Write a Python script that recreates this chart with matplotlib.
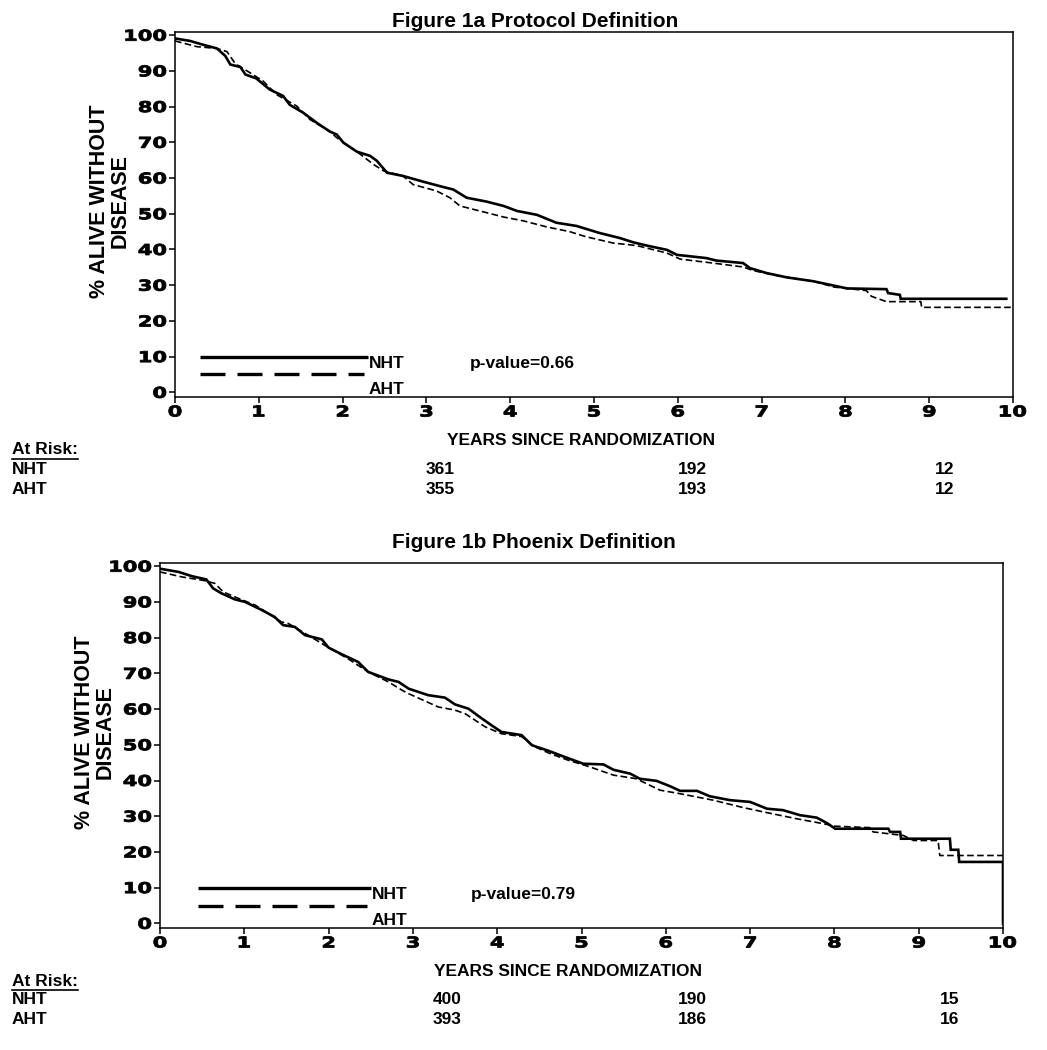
import numpy as np
import matplotlib
matplotlib.use('Agg')
import matplotlib.pyplot as plt
from matplotlib.textpath import TextPath
from matplotlib.patches import PathPatch
from matplotlib.transforms import Affine2D
from matplotlib.font_manager import FontProperties

# years since randomization and % alive without disease
t_1a_nht = [0, 0.18, 0.34, 0.50, 0.60, 0.66, 0.78, 0.84, 0.97, 1.13, 1.29, 1.37, 1.53, 1.69,
            1.85, 1.93, 2.01, 2.17, 2.33, 2.41, 2.53, 2.72, 2.96, 3.20, 3.32, 3.48, 3.72,
            3.92, 4.08, 4.32, 4.55, 4.79, 5.07, 5.31, 5.47, 5.63, 5.87, 5.99, 6.34, 6.46,
            6.78, 6.86, 7.06, 7.30, 7.62, 7.86, 8.02, 8.49, 8.51, 8.65, 8.66, 9.92]
s_1a_nht = [99.1, 98.4, 97.3, 96.3, 94.2, 91.8, 91.1, 89.0, 87.9, 84.8, 83.0, 80.5, 78.3, 75.5,
            73.0, 72.2, 69.9, 67.4, 66.2, 64.8, 61.5, 60.6, 59.0, 57.5, 56.8, 54.5, 53.4,
            52.2, 50.8, 49.7, 47.5, 46.6, 44.6, 43.2, 42.0, 41.1, 39.9, 38.5, 37.6, 36.9,
            36.2, 34.8, 33.4, 32.2, 31.1, 29.9, 29.1, 28.9, 27.8, 27.3, 26.2, 26.2]
t_1a_aht = [0, 0.26, 0.50, 0.62, 0.72, 0.86, 1.05, 1.21, 1.45, 1.61, 1.85, 1.93, 2.17, 2.37,
            2.49, 2.72, 2.84, 3.12, 3.28, 3.40, 3.72, 3.92, 4.16, 4.44, 4.71, 4.90, 5.23,
            5.51, 5.87, 6.03, 6.42, 6.78, 6.90, 7.22, 7.62, 7.86, 8.25, 8.31, 8.49, 8.90,
            8.91, 10.0]
s_1a_aht = [98.4, 96.8, 96.3, 95.4, 92.0, 90.0, 87.2, 83.4, 80.2, 76.4, 73.0, 71.3, 67.4, 63.8,
            62.0, 60.6, 58.2, 56.4, 54.5, 52.2, 50.3, 49.1, 48.0, 46.3, 45.0, 43.6, 41.8,
            41.1, 39.0, 37.3, 36.2, 35.1, 34.1, 32.5, 31.1, 29.5, 28.5, 26.9, 25.4, 25.4,
            23.8, 23.8]

t_1b_nht = [0, 0.22, 0.38, 0.55, 0.63, 0.73, 0.89, 1.01, 1.21, 1.36, 1.46, 1.60, 1.72, 1.92,
            2.00, 2.16, 2.35, 2.47, 2.71, 2.83, 2.95, 3.18, 3.38, 3.50, 3.66, 3.78, 3.93,
            4.05, 4.29, 4.41, 4.61, 4.80, 5.02, 5.26, 5.38, 5.58, 5.69, 5.89, 6.05, 6.17,
            6.37, 6.52, 6.76, 7.00, 7.20, 7.39, 7.59, 7.79, 7.91, 8.01, 8.64, 8.66, 8.78,
            8.79, 9.37, 9.38, 9.47, 9.48, 10.0, 10.0]
s_1b_nht = [99.3, 98.4, 97.2, 96.3, 93.8, 92.4, 90.7, 90.0, 87.7, 85.8, 83.5, 83.0, 80.7, 79.5,
            77.2, 75.3, 73.2, 70.4, 68.3, 67.6, 65.7, 63.9, 63.2, 61.3, 60.1, 58.0, 55.5,
            53.6, 52.7, 49.9, 48.3, 46.6, 44.7, 44.5, 43.0, 41.9, 40.5, 39.9, 38.4, 37.1,
            37.1, 35.6, 34.5, 34.0, 32.1, 31.7, 30.3, 29.6, 28.1, 26.5, 26.5, 25.6, 25.6,
            23.7, 23.7, 20.6, 20.6, 17.2, 17.2, 0]
t_1b_aht = [0, 0.26, 0.52, 0.65, 0.75, 0.93, 1.13, 1.44, 1.52, 1.84, 2.00, 2.23, 2.47, 2.71,
            2.87, 2.95, 3.30, 3.50, 3.62, 3.86, 4.05, 4.29, 4.45, 4.61, 4.84, 5.10, 5.38,
            5.65, 5.93, 6.17, 6.56, 6.92, 7.16, 7.55, 7.87, 8.01, 8.42, 8.46, 8.82, 8.94,
            9.23, 9.25, 10.0]
s_1b_aht = [98.4, 97.0, 96.0, 95.2, 92.8, 91.0, 89.1, 84.4, 84.0, 79.5, 77.2, 74.1, 70.4, 67.6,
            65.3, 64.3, 60.6, 59.7, 58.7, 55.0, 53.1, 52.3, 49.4, 47.7, 45.7, 43.8, 41.5,
            40.5, 37.3, 36.3, 34.5, 32.4, 31.2, 29.3, 27.9, 27.2, 26.8, 25.6, 24.6, 23.2,
            23.2, 19.0, 19.0]

titles = ['Figure 1a Protocol Definition', 'Figure 1b Phoenix Definition']
pvalues = ['p-value=0.66', 'p-value=0.79']
risk_nht = [['361', '192', '12'], ['400', '190', '15']]
risk_aht = [['355', '193', '12'], ['393', '186', '16']]
xticks = list(range(0, 11))
yticks = list(range(0, 101, 10))

W, H = 1047, 1050
fig = plt.figure(figsize=(W / 100, H / 100), dpi=100)

def fx(px):
    return px / W

def fy(py):
    return 1 - py / H

arial = ['Liberation Sans', 'DejaVu Sans']
wide_fp = FontProperties(family='DejaVu Sans', weight='bold')

def wide_text(x, y, s, ha='center', size=15, sx=1.4):
    # stretched heavy digits (display pixel coords) like the original's wide axis font
    tp = TextPath((0, 0), s, size=size, prop=wide_fp)
    bb = tp.get_extents()
    cap = 0.729 * size
    if ha == 'center':
        dx = -(bb.x0 + bb.width / 2) * sx
    elif ha == 'right':
        dx = -bb.x1 * sx
    else:
        dx = -bb.x0 * sx
    tr = Affine2D().scale(sx, 1).translate(x + dx, y - cap / 2)
    fig.add_artist(PathPatch(tp, transform=tr, facecolor='black', edgecolor='black',
                             lw=0.6))

# panel layout in pixels
panels = [
    dict(l=175, r=1013, t=32, b=397, leg=(0.3, 2.3), px=3.52, title_y=27),
    dict(l=160, r=1003, t=563, b=928, leg=(0.45, 2.5), px=3.69, title_y=548),
]
curves = [((t_1a_nht, s_1a_nht), (t_1a_aht, s_1a_aht)),
          ((t_1b_nht, s_1b_nht), (t_1b_aht, s_1b_aht))]

for i, p in enumerate(panels):
    ax = fig.add_axes([fx(p['l']), fy(p['b']), fx(p['r'] - p['l']), (p['b'] - p['t']) / H])
    (tn, sn), (ta, sa) = curves[i]
    ax.plot(tn, sn, color='black', lw=1.9, solid_joinstyle='miter')
    ax.plot(ta, sa, color='black', lw=1.2, dashes=(4, 2))
    ax.set_xlim(0, 10)
    ax.set_ylim(-1.3, 100.9)
    ax.set_xticks(xticks)
    ax.set_yticks(yticks)
    ax.tick_params(direction='out', length=4, width=1.1, labelleft=False, labelbottom=False)
    for s in ax.spines.values():
        s.set_linewidth(1.1)

    # wide tick labels
    for v in yticks:
        xd, yd = ax.transData.transform((0, v))
        wide_text(xd - 9, yd, str(v), ha='right')
    for v in xticks:
        xd, yd = ax.transData.transform((v, -1.3))
        wide_text(xd, yd - 14, str(v), ha='center')

    # legend
    x0, x1 = p['leg']
    ax.plot([x0, x1], [10, 10], color='black', lw=2.4, solid_capstyle='butt')
    ax.plot([x0, x1 - 0.05], [5, 5], color='black', lw=2.4, dashes=(7.5, 3.6))
    ax.text(x1 + 0.01, 8.1, 'NHT', family=arial, fontweight='bold', fontsize=12.5, va='center')
    ax.text(x1 + 0.01, 0.8, 'AHT', family=arial, fontweight='bold', fontsize=12.5, va='center')
    ax.text(p['px'], 8.1, pvalues[i], family=arial, fontweight='bold', fontsize=12.5, va='center')

    # title and axis labels
    fig.text(fx(392), fy(p['title_y']), titles[i], family=arial, fontweight='bold',
             fontsize=15, ha='left', va='baseline')
    cy = (p['t'] + p['b']) / 2 - 13
    fig.text(fx(p['l'] - 65), fy(cy), '% ALIVE WITHOUT\nDISEASE', family=arial,
             fontweight='bold', fontsize=15.5, rotation=90, ha='center', va='center',
             multialignment='center', linespacing=1.0)
    b = p['b']
    fig.text(fx((p['l'] + p['r']) / 2 - 13), fy(b + 44), 'YEARS SINCE RANDOMIZATION',
             family=arial, fontweight='bold', fontsize=12.5, ha='center', va='center')

    # at-risk table
    fig.text(fx(12), fy(b + 53), 'At Risk:', family=arial, fontweight='bold',
             fontsize=12.5, ha='left', va='center')
    fig.add_artist(plt.Line2D([fx(12), fx(78)], [fy(b + 62), fy(b + 62)],
                              color='black', lw=1.2))
    fig.text(fx(12), fy(b + 72), 'NHT', family=arial, fontweight='bold', fontsize=12.5,
             ha='left', va='center')
    fig.text(fx(12), fy(b + 92), 'AHT', family=arial, fontweight='bold', fontsize=12.5,
             ha='left', va='center')
    for j, cx in enumerate([440 + 7 * i, 692, 945 + 5 * i]):
        fig.text(fx(cx), fy(b + 72), risk_nht[i][j], family=arial, fontweight='bold',
                 fontsize=12.5, ha='center', va='center')
        fig.text(fx(cx), fy(b + 92), risk_aht[i][j], family=arial, fontweight='bold',
                 fontsize=12.5, ha='center', va='center')

fig.savefig('out.png', dpi=100)
